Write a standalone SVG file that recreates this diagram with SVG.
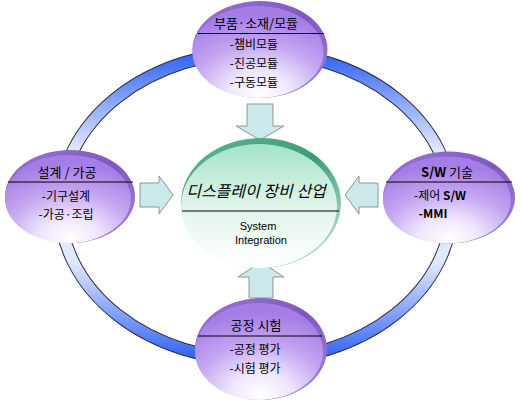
<svg xmlns="http://www.w3.org/2000/svg" width="521" height="404" viewBox="0 0 521 404">
<defs>
<linearGradient id="ringG" gradientUnits="userSpaceOnUse" x1="0" y1="50" x2="0" y2="362">
<stop offset="0" stop-color="#2a5ef5"/>
<stop offset="0.32" stop-color="#e2e8fb"/>
<stop offset="0.68" stop-color="#e2e8fb"/>
<stop offset="1" stop-color="#2a5ef5"/>
</linearGradient>
<radialGradient id="purpleG" cx="0.5" cy="0.95" r="0.85" fx="0.52" fy="0.95">
<stop offset="0" stop-color="#ffffff"/>
<stop offset="0.28" stop-color="#efe6fd"/>
<stop offset="0.62" stop-color="#c4a6f1"/>
<stop offset="1" stop-color="#a47de6"/>
</radialGradient>
<linearGradient id="rimP" x1="0" y1="0" x2="1" y2="1">
<stop offset="0" stop-color="#9a76d6"/>
<stop offset="0.5" stop-color="#7f56bf"/>
<stop offset="1" stop-color="#a586de"/>
</linearGradient>
<linearGradient id="greenG" x1="0" y1="0" x2="0" y2="1">
<stop offset="0" stop-color="#a4e3c8"/>
<stop offset="0.5" stop-color="#e0f5eb"/>
<stop offset="1" stop-color="#ffffff"/>
</linearGradient>
<linearGradient id="rimG" x1="0" y1="0" x2="1" y2="1">
<stop offset="0" stop-color="#5cb894"/>
<stop offset="0.5" stop-color="#3a9c74"/>
<stop offset="1" stop-color="#d6f2e6"/>
</linearGradient>
</defs>
<style>
.rimP{fill:url(#rimP)}
.body{fill:url(#purpleG)}
.sep{stroke:#000;stroke-width:1}
.t{font-family:"Noto Sans CJK KR","Noto Sans",sans-serif;font-size:13px;fill:#000;text-anchor:middle}
.i{font-family:"Noto Sans CJK KR","Noto Sans",sans-serif;font-size:12px;fill:#000;text-anchor:middle}
.arrow{fill:#cbe8ea;stroke:#8a9898;stroke-width:1}
.lat{font-family:"Liberation Sans",Arial,sans-serif;font-size:11px;fill:#000;text-anchor:middle}
</style>

<g id="connectors">
<ellipse cx="256" cy="206" rx="196" ry="154" fill="none" stroke="#2b2b40" stroke-width="13"/>
<ellipse cx="256" cy="206" rx="196" ry="154" fill="none" stroke="url(#ringG)" stroke-width="11"/>
<path class="arrow" d="M247,104 H273 V126 H284 L260,140 L236,126 H247 Z"/>
<path class="arrow" d="M140,183 H159 V176 L173,195 L159,214 V207 H140 Z"/>
<path class="arrow" d="M378,183 H359 V176 L345,195 L359,214 V207 H378 Z"/>
<path class="arrow" d="M249,298 H273 V277 H284 L261,262 L238,277 H249 Z"/>
</g>

<g id="node-top">
<ellipse class="rimP" cx="260" cy="49.5" rx="67.5" ry="48.5"/>
<ellipse class="body" cx="258" cy="52" rx="65.5" ry="46"/>
<text class="t" x="256" y="28">부품·소재/모듈</text>
<line class="sep" x1="198" y1="33.5" x2="324" y2="33.5"/>
<text class="i" x="254" y="49">-챔비모듈</text>
<text class="i" x="254" y="68">-진공모듈</text>
<text class="i" x="254" y="87">-구동모듈</text>
</g>

<g id="node-left">
<ellipse class="rimP" cx="70" cy="196.5" rx="65" ry="46.5"/>
<ellipse class="body" cx="68" cy="199" rx="63" ry="44"/>
<text class="t" x="67" y="177">설계 / 가공</text>
<line class="sep" x1="8" y1="182" x2="133" y2="182"/>
<text class="i" x="66" y="201">-기구설계</text>
<text class="i" x="66" y="219">-가공·조립</text>
</g>

<g id="node-right">
<ellipse class="rimP" cx="449" cy="197.5" rx="66" ry="46"/>
<ellipse class="body" cx="447" cy="200" rx="64" ry="43.5"/>
<text class="t" x="447" y="177"><tspan font-weight="bold">S/W</tspan> 기술</text>
<line class="sep" x1="386" y1="182" x2="512" y2="182"/>
<text class="i" x="440" y="200">-제어 <tspan font-weight="bold">S/W</tspan></text>
<text class="i" x="433" y="218" font-weight="bold">-MMI</text>
</g>

<g id="node-bottom">
<ellipse class="rimP" cx="261" cy="349" rx="66" ry="51"/>
<ellipse class="body" cx="259" cy="351.5" rx="64" ry="48.5"/>
<text class="t" x="256" y="330">공정 시험</text>
<line class="sep" x1="198" y1="336" x2="322" y2="336"/>
<text class="i" x="255" y="354">-공정 평가</text>
<text class="i" x="255" y="373">-시험 평가</text>
</g>

<g id="node-center">
<ellipse cx="261" cy="203" rx="80" ry="65" fill="url(#rimG)"/>
<ellipse cx="259" cy="206" rx="78" ry="62" fill="url(#greenG)"/>
<text x="256" y="197" font-family="'Noto Sans CJK KR','Noto Sans',sans-serif" font-size="16" font-style="italic" text-anchor="middle" fill="#000">디스플레이 장비 산업</text>
<line class="sep" x1="182" y1="211" x2="339" y2="211"/>
<text class="lat" x="258" y="230">System</text>
<text class="lat" x="261" y="244">Integration</text>
</g>
</svg>
